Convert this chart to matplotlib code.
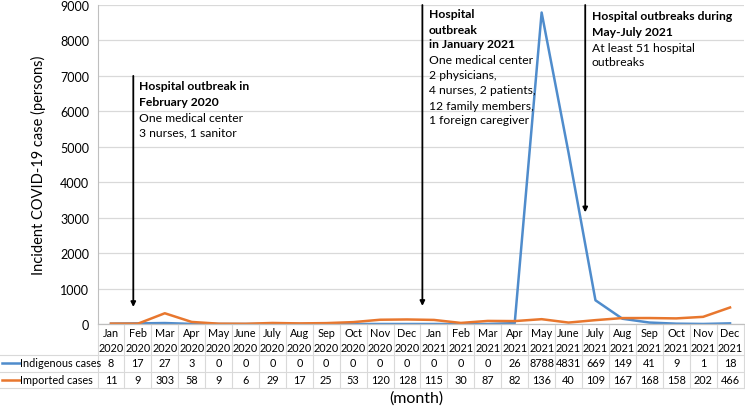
import matplotlib.pyplot as plt
import matplotlib.transforms as mtransforms

plt.rcParams['font.family'] = ['Lato', 'DejaVu Sans']

months = ['Jan\n2020', 'Feb\n2020', 'Mar\n2020', 'Apr\n2020', 'May\n2020', 'June\n2020',
          'July\n2020', 'Aug\n2020', 'Sep\n2020', 'Oct\n2020', 'Nov\n2020', 'Dec\n2020',
          'Jan\n2021', 'Feb\n2021', 'Mar\n2021', 'Apr\n2021', 'May\n2021', 'June\n2021',
          'July\n2021', 'Aug\n2021', 'Sep\n2021', 'Oct\n2021', 'Nov\n2021', 'Dec\n2021']
indigenous = [8, 17, 27, 3, 0, 0, 0, 0, 0, 0, 0, 0,
              0, 0, 0, 26, 8788, 4831, 669, 149, 41, 9, 1, 18]
imported = [11, 9, 303, 58, 9, 6, 29, 17, 25, 53, 120, 128,
            115, 30, 87, 82, 136, 40, 109, 167, 168, 158, 202, 466]

series_names = ['Indigenous cases', 'Imported cases']
blue = '#4f8ccc'
orange = '#e8772e'
grid_c = '#d9d9d9'

W, H = 745, 410
fig = plt.figure(figsize=(W / 100, H / 100), dpi=100)
ax = fig.add_axes([97.5 / W, 1 - 325 / H, 646 / W, 319 / H])

x = list(range(len(months)))
ax.plot(x, indigenous, color=blue, lw=1.8, solid_joinstyle='round')
ax.plot(x, imported, color=orange, lw=1.8, solid_joinstyle='round')

ax.set_xlim(-0.5, len(months) - 0.5)
ax.set_ylim(0, 9000)
ax.set_yticks(range(0, 9001, 1000))
ax.set_xticks([])
ax.tick_params(axis='y', length=0, labelsize=9, pad=6)
ax.yaxis.grid(True, color=grid_c, lw=0.9)
ax.set_axisbelow(True)
for s in ['top', 'right', 'bottom']:
    ax.spines[s].set_visible(False)
ax.spines['left'].set_color('#bfbfbf')
ax.set_ylabel('Incident COVID-19 case (persons)', fontsize=10.5, labelpad=10)


def fy(py):
    return 1 - py / H


tr = mtransforms.blended_transform_factory(ax.transData, fig.transFigure)
trf = fig.transFigure

# bottom axis line
ax.plot([-0.5, len(months) - 0.5], [0, 0], color='#bfbfbf', lw=0.9, clip_on=False)

# ---- data table below the axis ----
tfs = 7.8
for i, m in enumerate(months):
    ax.text(i, fy(341), m, transform=tr, ha='center', va='center', fontsize=tfs,
            linespacing=1.35)
    ax.text(i, fy(364), str(indigenous[i]), transform=tr, ha='center', va='center', fontsize=tfs)
    ax.text(i, fy(381), str(imported[i]), transform=tr, ha='center', va='center', fontsize=tfs)
for i in range(len(months) + 1):
    ax.plot([i - 0.5, i - 0.5], [fy(326), fy(389)], transform=tr, color=grid_c,
            lw=0.8, clip_on=False)
for py in [356, 372.5, 389]:
    fig.add_artist(plt.Line2D([0, 743.5 / W], [fy(py), fy(py)], transform=trf,
                              color=grid_c, lw=0.8))
fig.add_artist(plt.Line2D([2 / W, 20 / W], [fy(364), fy(364)], transform=trf, color=blue, lw=1.8))
fig.add_artist(plt.Line2D([2 / W, 20 / W], [fy(381), fy(381)], transform=trf, color=orange, lw=1.8))
fig.text(20 / W, fy(364), series_names[0], ha='left', va='center', fontsize=tfs)
fig.text(20 / W, fy(381), series_names[1], ha='left', va='center', fontsize=tfs)
fig.text(416 / W, fy(399), '(month)', ha='center', va='center', fontsize=11.5)

# ---- outbreak annotations ----
arrows = [(0.83, 7000, 480), (11.57, 9000, 510), (17.62, 9000, 3150)]
for ax_x, y0, y1 in arrows:
    ax.annotate('', xy=(ax_x, y1), xytext=(ax_x, y0),
                arrowprops=dict(arrowstyle='-|>', color='black', lw=1.3,
                                mutation_scale=7, shrinkA=0, shrinkB=0),
                annotation_clip=False)

notes = [
    (1.05, [87, 102, 118, 133],
     ['Hospital outbreak in', 'February 2020', 'One medical center', '3 nurses, 1 sanitor'], 2),
    (11.8, [15, 30, 45, 61, 76, 91, 106, 121],
     ['Hospital', 'outbreak', 'in January 2021', 'One medical center', '2 physicians,',
      '4 nurses, 2 patients,', '12 family members,', '1 foreign caregiver'], 3),
    (17.87, [17, 32, 48, 63],
     ['Hospital outbreaks during', 'May-July 2021', 'At least 51 hospital', 'outbreaks'], 2),
]
for nx, ys, lines, nbold in notes:
    for k, (py, t) in enumerate(zip(ys, lines)):
        ax.text(nx, fy(py), t, transform=tr, ha='left', va='center', fontsize=8.7,
                fontweight='bold' if k < nbold else 'normal')

fig.savefig('out.png', dpi=100)
